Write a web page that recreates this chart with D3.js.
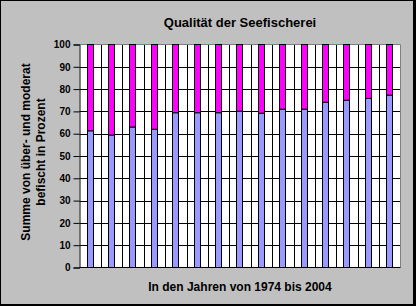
<!DOCTYPE html>
<html>
<head>
<meta charset="utf-8">
<script src="https://cdn.jsdelivr.net/npm/d3@7"></script>
<style>
  html, body { margin: 0; padding: 0; background: #c0c0c0; }
  svg { display: block; }
  text { font-family: Arial, "Liberation Sans", sans-serif; font-weight: bold; fill: #000; }
</style>
</head>
<body>
<svg id="chart" width="416" height="306"></svg>
<script>
// ---- data ----
const categories = ["1974","1976","1978","1980","1982","1984","1986","1988","1990","1992","1994","1996","1998","2000","2004"];
const moderatUeber = [61.3, 59.4, 63, 62, 69.4, 69.4, 69.4, 70.1, 69.2, 71, 71, 74.1, 75, 75.8, 77.3];
const rest = moderatUeber.map(v => 100 - v);
const yTicks = [0,10,20,30,40,50,60,70,80,90,100];
const title = "Qualität der Seefischerei";
const xTitle = "In den Jahren von 1974 bis 2004";
const yTitleLines = ["Summe von über- und moderat", "befischt in Prozent"];

const W = 416, H = 306;
const plot = { left: 79.5, right: 400.5, top: 44.5, bottom: 267.5 };

const svg = d3.select("#chart");

// background + frame
svg.append("rect").attr("x",0).attr("y",0).attr("width",W).attr("height",H).attr("fill","#c0c0c0");
svg.append("rect").attr("x",0.5).attr("y",0.5).attr("width",W-1).attr("height",H-1)
  .attr("fill","none").attr("stroke","#000").attr("stroke-width",1);
svg.append("rect").attr("x",W-3).attr("y",0).attr("width",3).attr("height",H).attr("fill","#000");
svg.append("rect").attr("x",0).attr("y",H-2).attr("width",W).attr("height",2).attr("fill","#000");

// scales
const xGrid = d3.scaleBand().domain(categories).range([plot.left, plot.right]).padding(0);
const x = d3.scaleBand().domain(categories).range([plot.left, plot.right])
  .paddingInner(0.67).paddingOuter(0.335);
const y = d3.scaleLinear().domain([0,100]).range([plot.bottom, plot.top]);

// plot background
svg.append("rect").attr("x",plot.left).attr("y",plot.top)
  .attr("width",plot.right-plot.left).attr("height",plot.bottom-plot.top).attr("fill","#fff");

// horizontal gridlines
svg.append("g").selectAll("line").data(yTicks.filter(t => t > 0 && t < 100)).join("line")
  .attr("x1",plot.left).attr("x2",plot.right)
  .attr("y1",d => Math.round(y(d)) + 0.5).attr("y2",d => Math.round(y(d)) + 0.5)
  .attr("stroke","#000").attr("stroke-width",1);

// vertical gridlines at category boundaries
svg.append("g").selectAll("line").data(categories.slice(1)).join("line")
  .attr("x1",d => Math.round(xGrid(d)) + 0.5).attr("x2",d => Math.round(xGrid(d)) + 0.5)
  .attr("y1",plot.top).attr("y2",plot.bottom)
  .attr("stroke","#000").attr("stroke-width",1);

// plot border (top/right gray)
svg.append("path")
  .attr("d",`M${plot.left},${plot.top}H${plot.right}V${plot.bottom}`)
  .attr("fill","none").attr("stroke","#808080").attr("stroke-width",1);

// stacked bars
const stackData = categories.map((c,i) => ({cat:c, a: moderatUeber[i], b: rest[i]}));
const series = d3.stack().keys(["a","b"])(stackData);
const colors = { a: "#9999ff", b: "#ff00ff" };
svg.append("g").selectAll("g").data(series).join("g")
  .attr("fill", d => colors[d.key])
  .selectAll("rect").data(d => d).join("rect")
  .attr("x", d => Math.round(x(d.data.cat)) + 0.5)
  .attr("width", Math.round(x.bandwidth()) - 1)
  .attr("y", d => y(d[1]))
  .attr("height", d => y(d[0]) - y(d[1]))
  .attr("stroke","#000").attr("stroke-width",1);

// y axis
const yAxis = d3.axisLeft(y).tickValues(yTicks).tickSize(6).tickPadding(3).tickFormat(d3.format("d"));
const gy = svg.append("g").attr("transform",`translate(${plot.left},0)`).call(yAxis);
gy.select(".domain").attr("stroke","#000");
gy.selectAll(".tick line").attr("stroke","#000");
gy.selectAll(".tick text").style("font-size","10px").style("font-weight","bold")
  .style("font-family","Arial, 'Liberation Sans', sans-serif").attr("fill","#000");

// x axis line
svg.append("line").attr("x1",plot.left).attr("x2",plot.right)
  .attr("y1",plot.bottom).attr("y2",plot.bottom).attr("stroke","#000").attr("stroke-width",1);

// titles
const cx = (plot.left + plot.right) / 2;
svg.append("text").attr("x",cx).attr("y",27).attr("text-anchor","middle")
  .style("font-size","13px").text(title);
svg.append("text").attr("x",cx).attr("y",291).attr("text-anchor","middle")
  .style("font-size","12px").text(xTitle);
const yt = svg.append("g").attr("transform","translate(0,152)");
yTitleLines.forEach((line,i) => {
  yt.append("text").attr("transform",`translate(${29.5 + i*15},0) rotate(-90)`)
    .attr("text-anchor","middle").style("font-size","12px").text(line);
});
</script>
</body>
</html>
